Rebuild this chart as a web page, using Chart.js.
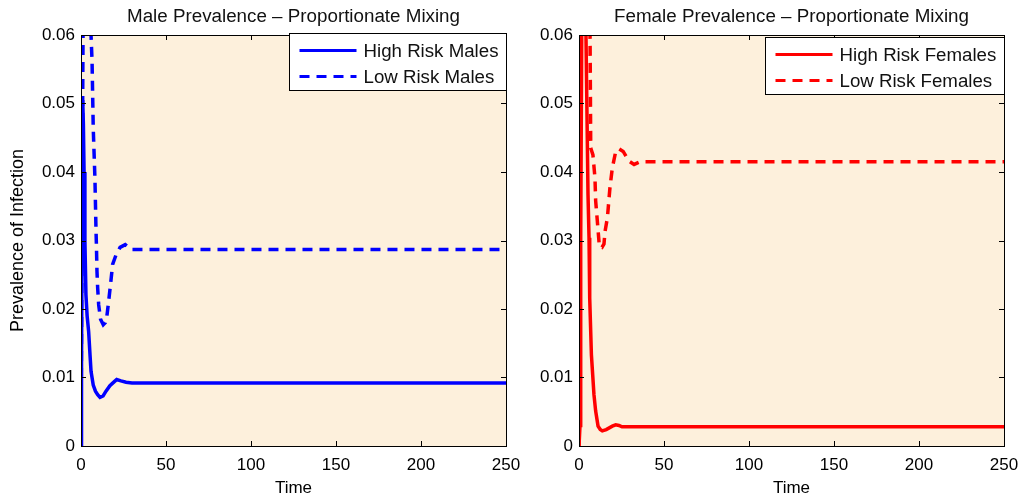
<!DOCTYPE html>
<html>
<head>
<meta charset="utf-8">
<script src="https://cdn.jsdelivr.net/npm/chart.js@4.4.1/dist/chart.umd.min.js"></script>
<style>
  body { margin: 0; background: #fff; }
  #wrap { position: relative; width: 1022px; height: 498px; }
  canvas { position: absolute; top: 0; }
  #male { left: 0; z-index: 2; }
  #female { left: 511px; z-index: 1; }
</style>
</head>
<body>
<div id="wrap">
  <canvas id="male" width="530" height="498"></canvas>
  <canvas id="female" width="511" height="498"></canvas>
</div>
<script>
// values (time, prevalence)
const timeHighMale = [0, 0.3, 0.6, 1.0, 1.4, 1.8, 2.3, 2.9, 3.6, 4.5, 5.3, 5.9, 7.2, 8.5, 9.8, 11.2, 13, 14.7, 17, 19.6, 21, 23.5, 26.5, 30, 40, 250];
const highMale = [0, 0.012, 0.03, 0.0505, 0.047, 0.040, 0.030, 0.0221, 0.019, 0.0167, 0.0133, 0.0109, 0.0089, 0.0080, 0.0075, 0.0071, 0.0073, 0.0080, 0.0088, 0.0094, 0.0097, 0.0095, 0.0093, 0.0092, 0.0092, 0.0092];

const timeLowMale = [0, 0.5, 1.2, 2, 3.5, 5, 5.9, 6.5, 7.2, 8.2, 8.8, 9.1, 9.4, 9.8, 10.4, 11.5, 13.1, 14.3, 15.1, 16.3, 17.6, 18.6, 20.6, 23, 26, 29.4, 35, 250];
const lowMale = [0, 0.028, 0.06, 0.075, 0.08, 0.07, 0.06, 0.0562, 0.0464, 0.039, 0.0318, 0.029, 0.0255, 0.0231, 0.0206, 0.0185, 0.0177, 0.0180, 0.0187, 0.0212, 0.0241, 0.0265, 0.0279, 0.0290, 0.0294, 0.0287, 0.0287, 0.0287];

const timeHighFemale = [0, 0.6, 1.0, 1.6, 2.5, 3.5, 4.1, 5.3, 5.9, 6.3, 7.3, 8.8, 9.8, 11.2, 12.5, 13.7, 16, 19.6, 21.6, 23.5, 25.3, 250];
const highFemale = [0, 0.003, 0.03, 0.06, 0.08, 0.07, 0.06, 0.0367, 0.0304, 0.0216, 0.0133, 0.0075, 0.0051, 0.0029, 0.0024, 0.0022, 0.0024, 0.0029, 0.0031, 0.0030, 0.0028, 0.0028];

const timeLowFemale = [0, 0.5, 1, 2, 3.5, 5.5, 6.5, 6.9, 8.2, 9.4, 9.8, 10.8, 12, 13.5, 14.7, 15.3, 16.7, 18.2, 19.6, 21.6, 23.5, 26, 29.4, 32.4, 36, 250];
const lowFemale = [0, 0.03, 0.06, 0.08, 0.09, 0.075, 0.06, 0.0435, 0.0425, 0.0391, 0.0358, 0.0328, 0.0291, 0.0290, 0.0295, 0.0313, 0.0333, 0.0377, 0.0406, 0.0430, 0.0434, 0.0430, 0.0416, 0.0411, 0.0415, 0.0415];

const xTicks = [0, 50, 100, 150, 200, 250];
const yTickLabels = ["0", "0.01", "0.02", "0.03", "0.04", "0.05", "0.06"];

const FONT = "'Liberation Sans', Arial, Helvetica, sans-serif";
Chart.defaults.font.family = FONT;
Chart.defaults.color = "#000";

function pts(ts, vs) {
  return ts.map((t, i) => ({ x: t, y: vs[i] }));
}

// matlab-ish axes: cream box, inward ticks, legend inside top right, title on top
const matlabAxes = {
  id: "matlabAxes",
  beforeDatasetsDraw(chart) {
    const { ctx, chartArea: a } = chart;
    ctx.save();
    ctx.fillStyle = "rgb(253,240,220)";
    ctx.fillRect(a.left, a.top, a.width, a.height);
    ctx.restore();
  },
  afterDatasetsDraw(chart, args, opts) {
    const { ctx, chartArea: a, scales } = chart;
    ctx.save();
    ctx.strokeStyle = "#000";
    ctx.lineWidth = 1;
    ctx.setLineDash([]);
    ctx.beginPath();
    scales.x.ticks.forEach((t) => {
      const px = Math.round(scales.x.getPixelForValue(t.value)) + 0.5;
      ctx.moveTo(px, a.bottom); ctx.lineTo(px, a.bottom - 5);
      ctx.moveTo(px, a.top); ctx.lineTo(px, a.top + 5);
    });
    scales.y.ticks.forEach((t) => {
      const py = Math.round(scales.y.getPixelForValue(t.value)) + 0.5;
      ctx.moveTo(a.left, py); ctx.lineTo(a.left + 5, py);
      ctx.moveTo(a.right, py); ctx.lineTo(a.right - 5, py);
    });
    ctx.stroke();
    ctx.strokeRect(Math.round(a.left) + 0.5, Math.round(a.top) + 0.5, Math.round(a.width), Math.round(a.height));

    // legend
    ctx.font = opts.legendSize + "px " + FONT;
    const sets = chart.data.datasets;
    const textW = Math.max(...sets.map((d) => ctx.measureText(d.label).width));
    const lineLen = 57, padL = 10, gap = 7, padR = 8;
    const w = Math.round(padL + lineLen + gap + textW + padR);
    const h = 57;
    const bx = Math.round(a.right - w) + 0.5;
    const by = Math.round(a.top + opts.legendTop) + 0.5;
    ctx.fillStyle = "#fff";
    ctx.fillRect(bx, by, w, h);
    ctx.strokeStyle = "#000";
    ctx.lineWidth = 1;
    ctx.strokeRect(bx, by, w, h);
    sets.forEach((d, i) => {
      const cy = by + 17 + i * 26;
      ctx.strokeStyle = d.borderColor;
      ctx.lineWidth = 3;
      ctx.setLineDash(d.borderDash || []);
      ctx.beginPath();
      ctx.moveTo(bx + padL, cy);
      ctx.lineTo(bx + padL + lineLen, cy);
      ctx.stroke();
      ctx.setLineDash([]);
      ctx.fillStyle = "#111";
      ctx.textBaseline = "middle";
      ctx.textAlign = "left";
      ctx.fillText(d.label, bx + padL + lineLen + gap, cy + 1);
    });

    // title
    ctx.font = "18.8px " + FONT;
    ctx.fillStyle = "#111";
    ctx.textAlign = "center";
    ctx.textBaseline = "alphabetic";
    ctx.fillText(opts.title, (a.left + a.right) / 2, 22);
    ctx.restore();
  }
};

function makeChart(id, cfg) {
  return new Chart(document.getElementById(id), {
    type: "line",
    data: {
      datasets: [
        {
          label: cfg.labels[0],
          data: pts(cfg.high[0], cfg.high[1]),
          borderColor: cfg.color,
          borderWidth: 3.5,
          pointRadius: 0,
          tension: 0
        },
        {
          label: cfg.labels[1],
          data: pts(cfg.low[0], cfg.low[1]),
          borderColor: cfg.color,
          borderWidth: 3.5,
          borderDash: [10, 7],
          pointRadius: 0,
          tension: 0
        }
      ]
    },
    options: {
      responsive: false,
      animation: false,
      events: [],
      layout: { padding: { top: 35, right: cfg.padRight, left: 0, bottom: 0 } },
      plugins: {
        legend: { display: false },
        tooltip: { enabled: false },
        matlabAxes: { title: cfg.title, legendSize: 18.7, legendTop: cfg.legendTop }
      },
      scales: {
        x: {
          type: "linear",
          min: 0,
          max: 250,
          afterBuildTicks: (s) => { s.ticks = xTicks.map((v) => ({ value: v })); },
          ticks: { font: { size: 17 }, padding: 9, maxRotation: 0 },
          grid: { display: false, drawTicks: false },
          border: { display: false },
          title: { display: true, text: "Time", font: { size: 17 }, padding: { top: 0, bottom: -1 } },
          afterFit: (s) => { s.height = 52; s.paddingLeft = 0; s.paddingRight = 0; }
        },
        y: {
          min: 0,
          max: 0.06,
          ticks: {
            stepSize: 0.01,
            font: { size: 17 },
            padding: 6,
            callback: (v, i) => yTickLabels[i]
          },
          grid: { display: false, drawTicks: false },
          border: { display: false },
          title: {
            display: cfg.yTitle !== "",
            text: cfg.yTitle,
            font: { size: 18 },
            padding: { top: 7, bottom: 0 }
          },
          afterFit: (s) => { s.width = cfg.yWidth; s.paddingTop = 0; s.paddingBottom = 0; }
        }
      }
    },
    plugins: [matlabAxes]
  });
}

makeChart("male", {
  title: "Male Prevalence \u2013 Proportionate Mixing",
  labels: ["High Risk Males", "Low Risk Males"],
  color: "#0000ff",
  high: [timeHighMale, highMale],
  low: [timeLowMale, lowMale],
  yTitle: "Prevalence of Infection",
  yWidth: 81,
  padRight: 24,
  legendTop: -2
});

makeChart("female", {
  title: "Female Prevalence \u2013 Proportionate Mixing",
  labels: ["High Risk Females", "Low Risk Females"],
  color: "#ff0000",
  high: [timeHighFemale, highFemale],
  low: [timeLowFemale, lowFemale],
  yTitle: "",
  yWidth: 68,
  padRight: 18,
  legendTop: 2
});
</script>
</body>
</html>
